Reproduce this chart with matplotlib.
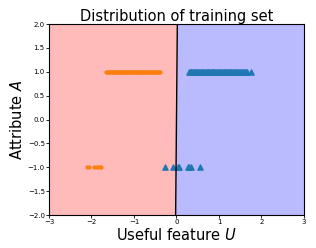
import matplotlib
matplotlib.use("Agg")
import matplotlib.pyplot as plt
import numpy as np

# class 0 (orange circles), class 1 (blue triangles)
orange_u_top = [-1.66, -1.64, -1.62, -1.60, -1.58, -1.56, -1.54, -1.52, -1.50, -1.48,
                -1.46, -1.44, -1.42, -1.40, -1.38, -1.36, -1.34, -1.32, -1.30, -1.28,
                -1.26, -1.24, -1.22, -1.20, -1.18, -1.16, -1.14, -1.12, -1.10, -1.08,
                -1.06, -1.04, -1.02, -1.00, -0.98, -0.96, -0.94, -0.92, -0.90, -0.88,
                -0.86, -0.84, -0.82, -0.80, -0.78, -0.76, -0.74, -0.72, -0.70, -0.68,
                -0.66, -0.64, -0.62, -0.60, -0.58, -0.56, -0.54, -0.52, -0.50, -0.48,
                -0.46, -0.44, -0.42, -0.40, -0.38]
orange_u_bot = [-2.11, -2.06, -1.93, -1.89, -1.85, -1.81, -1.78]
blue_u_top = [0.29, 0.31, 0.33, 0.35, 0.37, 0.39, 0.41, 0.43, 0.45, 0.47, 0.49, 0.51,
              0.53, 0.55, 0.57, 0.59, 0.61, 0.63, 0.65, 0.67, 0.69, 0.71, 0.73, 0.75,
              0.77, 0.79, 0.81, 0.83, 0.85, 0.87, 0.89, 0.91, 0.93, 0.95, 0.97, 0.99,
              1.01, 1.03, 1.05, 1.07, 1.09, 1.11, 1.13, 1.15, 1.17, 1.19, 1.21, 1.23,
              1.25, 1.27, 1.29, 1.31, 1.33, 1.35, 1.37, 1.39, 1.41, 1.43, 1.45, 1.47,
              1.49, 1.51, 1.53, 1.55, 1.57, 1.59, 1.61, 1.63, 1.66, 1.76]
blue_u_bot = [-0.26, -0.08, 0.03, 0.06, 0.26, 0.30, 0.33, 0.55]

boundary_a = [-2.0, 2.0]
boundary_u = [-0.02, 0.02]

fig = plt.figure(figsize=(3.16, 2.48), dpi=100)
ax = fig.add_axes([0.155, 0.133, 0.807, 0.77])

ax.fill_betweenx(boundary_a, -3, boundary_u, color="red", alpha=0.27, linewidth=0)
ax.fill_betweenx(boundary_a, boundary_u, 3, color="blue", alpha=0.27, linewidth=0)
ax.plot(boundary_u, boundary_a, color="black", linewidth=1)

ax.scatter(orange_u_top, np.ones(len(orange_u_top)), marker="o", s=4, color="tab:orange")
ax.scatter(orange_u_bot, -np.ones(len(orange_u_bot)), marker="o", s=4, color="tab:orange")
ax.scatter(blue_u_top, np.ones(len(blue_u_top)), marker="^", s=14, color="tab:blue")
ax.scatter(blue_u_bot, -np.ones(len(blue_u_bot)), marker="^", s=14, color="tab:blue")

ax.set_xlim(-3, 3)
ax.set_ylim(-2, 2)
ax.tick_params(labelsize=5, length=2, width=0.6, pad=1)
for s in ax.spines.values():
    s.set_linewidth(0.8)
ax.set_title("Distribution of training set", fontsize=10.5, pad=2)
ax.set_xlabel("Useful feature $U$", fontsize=10.5, labelpad=1)
ax.set_ylabel("Attribute $A$", fontsize=10.5, labelpad=2)

fig.savefig("out.png", dpi=100)
